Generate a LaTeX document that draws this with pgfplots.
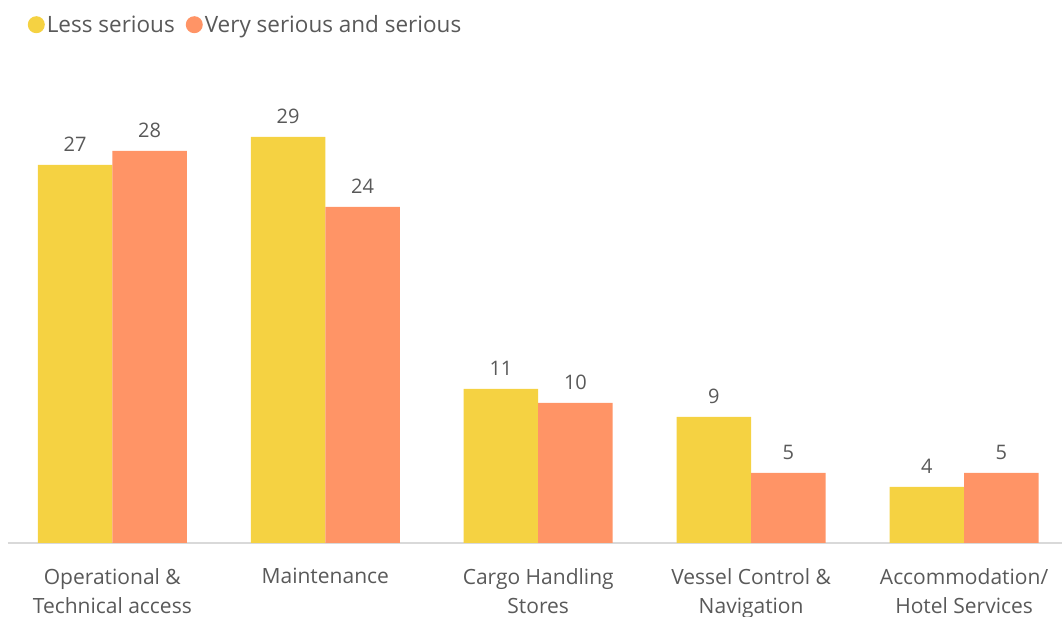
\documentclass[border=0pt]{standalone}
\usepackage{pgfplots}
\pgfplotsset{compat=1.18}
\usepackage{fontspec}
\setmainfont{Open Sans}
\definecolor{cyel}{HTML}{F5D242}
\definecolor{cora}{HTML}{FF9466}
\definecolor{ctxt}{HTML}{595959}
\definecolor{cax}{HTML}{D9D9D9}
\begin{document}
\begin{tikzpicture}
\begin{axis}[
  scale only axis,
  width=1054pt, height=476pt,
  ymin=0, ymax=34,
  xmin=-0.49, xmax=4.46,
  ybar=0pt, bar width=74.5pt,
  axis y line=none,
  axis x line*=bottom,
  x axis line style={draw=cax, line width=1.5pt, -},
  xtick={0,1,2,3,4},
  xticklabels={{Operational \&\\Technical access},{Maintenance},{Cargo Handling\\Stores},{Vessel Control \&\\Navigation},{Accommodation/\\Hotel Services}},
  xticklabel style={align=center, font=\fontsize{21}{29}\selectfont, text=ctxt, yshift=-22pt},
  major tick length=0pt,
  /pgf/number format/assume math mode=true,
  nodes near coords,
  every node near coord/.append style={font=\fontsize{20}{22}\selectfont, text=ctxt, yshift=10pt},
  legend style={draw=none, at={(rel axis cs:0.0186,1.113)}, anchor=north west, font=\fontsize{22.5}{24}\selectfont, text=ctxt, legend columns=-1, /tikz/every even column/.append style={column sep=9pt}, inner sep=0pt},
  legend image code/.code={\fill[#1] (0.25cm,0) circle (8.5pt);},
  clip=false,
]
\coordinate (bl) at (rel axis cs:0,0);
\addplot[fill=cyel, draw=none] coordinates {(0,27) (1,29) (2,11) (3,9) (4,4)};
\addplot[fill=cora, draw=none] coordinates {(0,28) (1,24) (2,10) (3,5) (4,5)};
\legend{Less serious,Very serious and serious}
\end{axis}
\pgfresetboundingbox
\path ([shift={(-8pt,-74pt)}]bl) rectangle ([shift={(1054pt,543pt)}]bl);
\end{tikzpicture}
\end{document}
